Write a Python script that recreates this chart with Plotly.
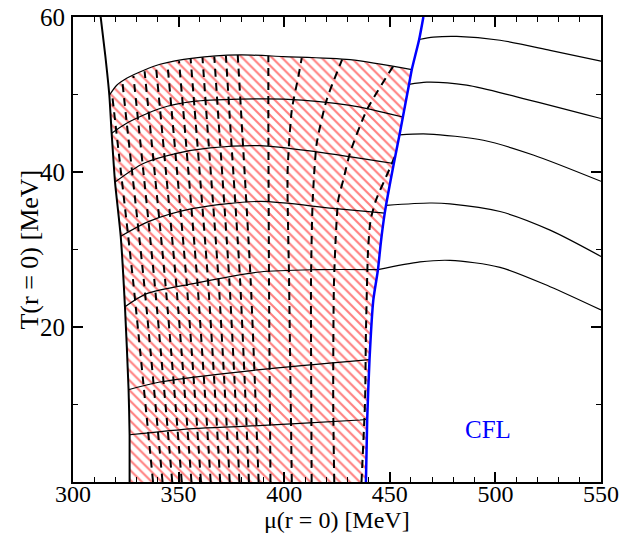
import plotly.graph_objects as go

# ---------------- data (MeV) ----------------
# left boundary (onset of quark phase)
LEFT_T = [0, 6, 12, 22.6, 31.7, 38.7, 45.0, 49.9, 55.0, 60.0]
LEFT_MU = [326.8, 326.8, 326.3, 324.6, 322.6, 319.9, 318.3, 317.2, 315.3, 313.1]

# CFL boundary (blue)
BLUE_T = [0, 8.1, 15.8, 23.5, 27.4, 31.0, 34.7, 41.1, 44.8, 47.1, 51.3, 53.2, 57.1, 60.0]
BLUE_MU = [438.7, 439.3, 440.4, 442.2, 444.4, 445.8, 447.6, 451.9, 454.6, 456.2, 459.1, 460.4, 463.9, 465.9]

# top of the hatched region
TOP_MU = [317.2, 320.7, 325.4, 333.3, 341.2, 357.0, 379.1, 399.6, 431.2, 460.4]
TOP_T = [49.9, 51.2, 52.1, 53.1, 53.9, 54.7, 55.1, 54.9, 54.5, 53.2]

# solid curves inside the hatched region
C_MU = [
    [318.3, 325.4, 341.2, 357.0, 379.1, 399.6, 431.2, 456.2],
    [319.9, 333.3, 349.1, 364.9, 388.5, 415.4, 451.9],
    [322.6, 335.7, 357.0, 388.5, 423.2, 447.6],
    [324.6, 334.9, 357.0, 388.5, 415.4, 444.4],
    [326.2, 341.2, 388.5, 440.4],
    [326.8, 357.0, 382.2, 435.9, 439.3],
]
C_T = [
    [45.0, 46.3, 48.2, 49.1, 49.4, 49.4, 48.6, 47.1],
    [38.7, 41.1, 42.4, 43.1, 43.4, 42.6, 41.1],
    [31.7, 33.6, 35.3, 36.2, 35.3, 34.7],
    [22.6, 24.3, 25.6, 27.1, 27.4, 27.4],
    [11.9, 12.9, 14.5, 15.8],
    [6.1, 6.9, 7.2, 8.0, 8.1],
]

# solid curves in the CFL phase
R_MU = [
    [463.9, 470.6, 481.7, 502.2, 525.9, 550.0],
    [459.1, 467.5, 486.4, 510.1, 550.0],
    [454.6, 468.2, 494.3, 517.9, 550.0],
    [448.2, 469.0, 478.5, 502.2, 525.9, 550.0],
    [444.4, 464.3, 478.5, 502.2, 525.9, 550.0],
]
R_T = [
    [57.1, 57.4, 57.5, 57.0, 55.7, 54.3],
    [51.3, 51.6, 51.2, 49.7, 46.9],
    [44.8, 44.9, 44.1, 42.2, 38.8],
    [35.7, 36.0, 35.9, 34.9, 32.5, 29.1],
    [27.4, 28.4, 28.6, 27.7, 25.2, 22.2],
]

# dashed curves
D_MU = [
    [337.9, 328.4, 319.9, 318.4],
    [342.4, 333.5, 325.3, 323.4],
    [347.0, 338.5, 330.8, 328.6],
    [351.5, 343.6, 336.2, 333.9],
    [356.1, 348.7, 341.7, 339.3],
    [360.6, 353.7, 347.1, 344.7],
    [365.2, 358.8, 352.6, 350.2],
    [369.7, 363.9, 358.0, 355.7],
    [374.2, 368.9, 363.4, 361.3],
    [378.8, 374.0, 368.9, 366.9],
    [383.3, 379.1, 374.3, 372.4],
    [387.9, 384.1, 379.8, 378.0],
    [393.5, 392.8, 392.5, 392.5],
    [403.6, 402.3, 401.6, 403.6, 406.7, 408.3],
    [413.0, 412.7, 413.5, 415.4, 420.1, 427.4],
    [423.7, 423.2, 423.6, 425.6, 428.0, 431.2, 439.1, 451.5],
    [436.6, 438.3, 438.7, 439.7, 440.9, 443.5, 449.1, 453.0],
]
D_T = [
    [0, 26.1, 46.7, 50.3],
    [0, 26.1, 46.7, 51.6],
    [0, 26.1, 46.7, 52.4],
    [0, 26.1, 46.7, 53.0],
    [0, 26.1, 46.7, 53.6],
    [0, 26.1, 46.7, 54.0],
    [0, 26.1, 46.7, 54.3],
    [0, 26.1, 46.7, 54.6],
    [0, 26.1, 46.7, 54.8],
    [0, 26.1, 46.7, 54.9],
    [0, 26.1, 46.7, 55.0],
    [0, 26.1, 46.7, 55.1],
    [0, 26.1, 46.7, 55.0],
    [0, 26.1, 40.0, 48.0, 52.3, 54.7],
    [0, 26.1, 36.4, 43.7, 49.3, 54.5],
    [0, 10.6, 26.1, 36.4, 39.0, 42.5, 48.0, 53.6],
    [0, 10.6, 19.2, 29.9, 33.8, 36.4, 39.9, 42.4],
]

X_TICKS = [300, 350, 400, 450, 500, 550]
Y_TICKS = [20, 40, 60]

FONT = "Liberation Serif, Times New Roman, serif"

fig = go.Figure()

# hatched region polygon built from the boundaries
t_top0 = TOP_T[0]
t_top1 = TOP_T[-1]
poly_mu = [m for m, t in zip(LEFT_MU, LEFT_T) if t < t_top0] + TOP_MU
poly_t = [t for t in LEFT_T if t < t_top0] + TOP_T
blue_part = [(m, t) for m, t in zip(BLUE_MU, BLUE_T) if t < t_top1][::-1]
poly_mu += [m for m, t in blue_part]
poly_t += [t for m, t in blue_part]

fig.add_trace(go.Scatter(
    x=poly_mu, y=poly_t, mode="none", fill="toself", fillcolor="white",
    fillpattern=dict(shape="\\", fgcolor="#ff0000", bgcolor="white", size=7, solidity=0.3),
    hoverinfo="skip"))

for mu, t in zip(D_MU, D_T):
    fig.add_trace(go.Scatter(x=mu, y=t, mode="lines",
                             line=dict(color="black", width=2, dash="8px,6px", shape="spline", smoothing=0.6)))

fig.add_trace(go.Scatter(x=TOP_MU, y=TOP_T, mode="lines",
                         line=dict(color="black", width=1.2, shape="spline", smoothing=0.8)))
for mu, t in zip(C_MU, C_T):
    fig.add_trace(go.Scatter(x=mu, y=t, mode="lines",
                             line=dict(color="black", width=1.2, shape="spline", smoothing=0.8)))
for mu, t in zip(R_MU, R_T):
    fig.add_trace(go.Scatter(x=mu, y=t, mode="lines",
                             line=dict(color="black", width=1.2, shape="spline", smoothing=0.8)))

fig.add_trace(go.Scatter(x=LEFT_MU, y=LEFT_T, mode="lines",
                         line=dict(color="black", width=2, shape="spline", smoothing=0.6)))
fig.add_trace(go.Scatter(x=BLUE_MU, y=BLUE_T, mode="lines",
                         line=dict(color="#0000ff", width=2.5, shape="spline", smoothing=0.6)))

fig.add_annotation(x=496.5, y=6.8, text="CFL", showarrow=False,
                   font=dict(family=FONT, size=25, color="#0000ff"),
                   xanchor="center", yanchor="middle")

# axis titles
fig.add_annotation(xref="paper", yref="paper", x=0.5, y=-0.1115, text="μ(r = 0) [MeV]",
                   showarrow=False, xanchor="center", yanchor="bottom", borderpad=0,
                   font=dict(family=FONT, size=24, color="black"))
fig.add_annotation(xref="paper", yref="paper", x=-0.0833, y=0.5, text="T(r = 0) [MeV]",
                   showarrow=False, xanchor="center", yanchor="middle", textangle=-90,
                   font=dict(family=FONT, size=26, color="black"))

axis_common = dict(
    showline=True, linecolor="black", linewidth=2, mirror="ticks",
    ticks="inside", ticklen=10, tickwidth=1.5, tickcolor="black",
    showgrid=False, zeroline=False,
)

fig.update_xaxes(range=[300, 550], tickmode="array", tickvals=X_TICKS,
                 minor=dict(tickmode="linear", tick0=300, dtick=10, ticks="inside",
                            ticklen=5, tickwidth=1, tickcolor="black"),
                 ticklabelstandoff=-11,
                 tickfont=dict(family=FONT, size=24, color="black"),
                 **axis_common)
fig.update_yaxes(range=[0, 60], tickmode="array", tickvals=Y_TICKS,
                 minor=dict(tickmode="linear", tick0=0, dtick=10, ticks="inside",
                            ticklen=5, tickwidth=1, tickcolor="black"),
                 ticklabelstandoff=1,
                 tickfont=dict(family=FONT, size=25, color="black"),
                 **axis_common)

fig.update_layout(width=624, height=535, margin=dict(l=73, r=23, t=17, b=53, autoexpand=False),
                  plot_bgcolor="white", paper_bgcolor="white", showlegend=False)

fig.write_html("out.html")
